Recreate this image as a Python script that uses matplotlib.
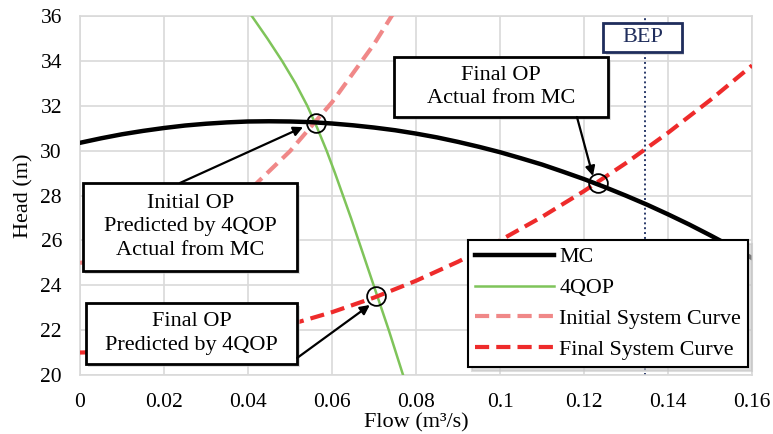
import numpy as np
import matplotlib
matplotlib.use("Agg")
from matplotlib import pyplot as plt
from matplotlib.patches import Rectangle

# MC (measured curve)
mc_q = [0, 0.005, 0.01, 0.015, 0.02, 0.025, 0.03, 0.035, 0.04, 0.045, 0.05,
        0.055, 0.06, 0.065, 0.07, 0.075, 0.08, 0.085, 0.09, 0.095, 0.10,
        0.105, 0.11, 0.115, 0.12, 0.125, 0.13, 0.135, 0.14, 0.145, 0.15, 0.155, 0.16]
mc_h = [30.35, 30.55, 30.73, 30.88, 31.01, 31.12, 31.20, 31.26, 31.30, 31.31, 31.30,
        31.27, 31.21, 31.13, 31.03, 30.91, 30.76, 30.59, 30.39, 30.17, 29.93,
        29.66, 29.38, 29.06, 28.73, 28.37, 27.99, 27.59, 27.16, 26.71, 26.23, 25.73, 25.21]

# 4QOP prediction
qop_h = [36, 35, 34, 33, 32, 31, 30, 29, 28, 27, 26, 25, 24, 23, 22, 21, 20]
qop_q = [0.0409, 0.0446, 0.0481, 0.0513, 0.0541, 0.0565, 0.0587, 0.0607, 0.0626,
         0.0645, 0.0663, 0.0681, 0.0699, 0.0717, 0.0735, 0.0752, 0.0769]

# system curves
init_q = [0, 0.01, 0.02, 0.03, 0.04, 0.05, 0.06, 0.07, 0.08]
init_h = [25.0, 25.20, 25.80, 26.79, 28.18, 29.98, 32.16, 34.75, 37.74]
final_q = [0, 0.01, 0.02, 0.03, 0.04, 0.05, 0.06, 0.07, 0.08,
           0.09, 0.10, 0.11, 0.12, 0.13, 0.14, 0.15, 0.16]
final_h = [21.0, 21.05, 21.2, 21.45, 21.8, 22.25, 22.8, 23.45, 24.2,
           25.05, 26.0, 27.05, 28.2, 29.45, 30.8, 32.25, 33.8]

# operating points
op_q = [0.0562, 0.0705, 0.1232]
op_h = [31.25, 23.5, 28.57]
bep_q = 0.1345

plt.rcParams['font.family'] = ['Liberation Serif', 'DejaVu Serif']

fig = plt.figure(figsize=(7.73, 4.34), dpi=100)
ax = fig.add_axes([0.1035, 0.136, 0.8695, 0.827])

ax.plot(mc_q, mc_h, color='black', lw=3.2, label='MC', zorder=4)
ax.plot(qop_q, qop_h, color='#7fc45a', lw=1.8, label='4QOP', zorder=3)
ax.plot(init_q, init_h, color='#f08888', lw=3, ls=(0, (3.4, 1.7)), label='Initial System Curve', zorder=3)
ax.plot(final_q, final_h, color='#ee2b2b', lw=3, ls=(0, (3.4, 1.7)), label='Final System Curve', zorder=3)
ax.axvline(bep_q, color='#2a3a6a', lw=1.4, ls=(0, (1, 1.5)), zorder=2)
ax.plot(op_q, op_h, 'o', mfc='none', mec='black', ms=13.5, mew=1.3, zorder=5)

ax.set_xlim(0, 0.16)
ax.set_ylim(20, 36)
ax.set_xticks(np.arange(0, 0.161, 0.02))
ax.set_xticklabels(['0', '0.02', '0.04', '0.06', '0.08', '0.1', '0.12', '0.14', '0.16'])
ax.set_yticks(range(20, 37, 2))
ax.tick_params(length=0, labelsize=15.5)
ax.tick_params(axis='x', pad=13)
ax.tick_params(axis='y', pad=13)
ax.grid(color='#d9d9d9', lw=1.2)
for s in ax.spines.values():
    s.set_color('#d9d9d9')
    s.set_linewidth(1.2)
ax.set_xlabel('Flow (m³/s)', fontsize=16, labelpad=1)
ax.set_ylabel('Head (m)', fontsize=16, labelpad=5)


def label_box(q0, q1, h0, h1, txt, ec='black', color='black', fs=16):
    # shadow then box, sizes in data units
    dq = 0.0006
    dh = 0.15
    ax.add_patch(Rectangle((q0 + dq, h0 - dh), q1 - q0, h1 - h0, fc='#c8c8c8', ec='none',
                           alpha=0.6, zorder=6, clip_on=False))
    ax.add_patch(Rectangle((q0, h0), q1 - q0, h1 - h0, fc='white', ec=ec, lw=2,
                           zorder=6.5, clip_on=False))
    ax.text((q0 + q1) / 2, (h0 + h1) / 2, txt, ha='center', va='center', fontsize=fs,
            color=color, zorder=7, linespacing=1.3)


label_box(0.0748, 0.1257, 31.50, 34.17, 'Final OP\nActual from MC')
label_box(0.0007, 0.0517, 24.64, 28.56, 'Initial OP\nPredicted by 4QOP\nActual from MC')
label_box(0.0014, 0.0517, 20.49, 23.21, 'Final OP\nPredicted by 4QOP')
label_box(0.1245, 0.1433, 34.40, 35.69, 'BEP', ec='#1f2d5c', color='#1f2d5c')

arrows = [((0.1183, 31.5), (0.1221, 28.87)),
          ((0.0238, 28.56), (0.0531, 31.05)),
          ((0.0517, 20.76), (0.069, 23.12))]
for start, end in arrows:
    ax.annotate('', xy=end, xytext=start, zorder=8,
                arrowprops=dict(arrowstyle='-|>', color='black', lw=1.6,
                                mutation_scale=14, shrinkA=0, shrinkB=0))

leg = ax.legend(loc='lower right', bbox_to_anchor=(0.994, 0.022), fontsize=15.8,
                frameon=True, fancybox=False,
                shadow={'color': '#c8c8c8', 'alpha': 0.6, 'ox': 3, 'oy': -3},
                handlelength=3.6, borderpad=0.32, labelspacing=0.48,
                handletextpad=0.25, borderaxespad=0)
leg.get_frame().set_edgecolor('black')
leg.get_frame().set_linewidth(1.5)
leg.set_zorder(9)

fig.savefig('out.png', dpi=100)
